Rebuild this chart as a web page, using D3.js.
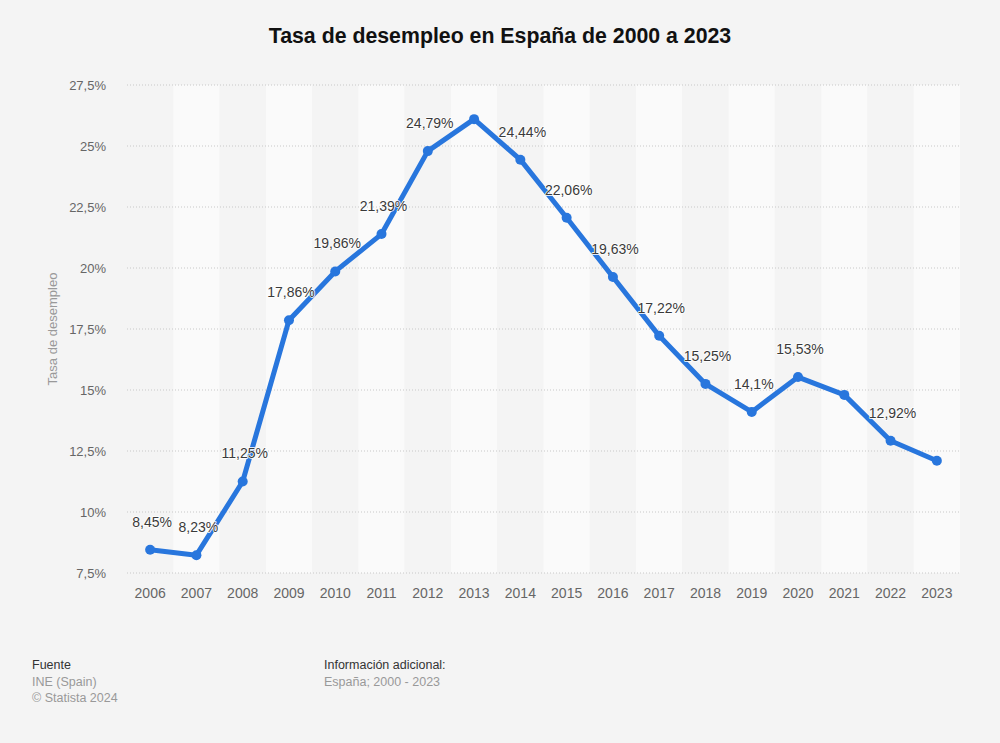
<!DOCTYPE html>
<html><head><meta charset="utf-8">
<script src="https://cdn.jsdelivr.net/npm/d3@7"></script>
<style>
body{margin:0;background:#f4f4f4;}
svg{display:block;font-family:"Liberation Sans",Arial,sans-serif;}
</style></head><body>
<script>
const years = ["2006","2007","2008","2009","2010","2011","2012","2013","2014","2015","2016","2017","2018","2019","2020","2021","2022","2023"];
const rates = [8.45,8.23,11.25,17.86,19.86,21.39,24.79,26.1,24.44,22.06,19.63,17.22,15.25,14.1,15.53,14.8,12.92,12.1];
const showLabel = [true,true,true,true,true,true,true,false,true,true,true,true,true,true,true,false,true,false];
const yTicks = [7.5,10,12.5,15,17.5,20,22.5,25,27.5];
const title = "Tasa de desempleo en España de 2000 a 2023";
const yTitle = "Tasa de desempleo";

const W=1000,H=743;
const svg=d3.select("body").append("svg").attr("width",W).attr("height",H);
svg.append("rect").attr("width",W).attr("height",H).attr("fill","#f4f4f4");

const x=d3.scaleBand().domain(years).range([127,960]).padding(0);
const y=d3.scaleLinear().domain([7.5,27.5]).range([573,85]);
const fmt=v=>String(v).replace(".",",")+"%";

// bands
svg.append("g").selectAll("rect").data(years).join("rect")
  .attr("x",d=>x(d)).attr("y",85).attr("width",x.bandwidth()).attr("height",573-85)
  .attr("fill",(d,i)=>i%2? "#fafafa":"#f4f4f4");

// grid
svg.append("g").selectAll("line").data(yTicks).join("line")
  .attr("x1",127).attr("x2",960).attr("y1",d=>y(d)).attr("y2",d=>y(d))
  .attr("stroke","#c8c8c8").attr("stroke-width",1).attr("stroke-dasharray","1,2");

// y axis
const ya=svg.append("g").attr("transform","translate(106,0)")
  .call(d3.axisLeft(y).tickValues(yTicks).tickSize(0).tickPadding(0).tickFormat(d=>fmt(d)));
ya.select(".domain").remove();
ya.selectAll("text").attr("fill","#666").style("font-size","13px").style("font-family","'Liberation Sans',Arial,sans-serif");

// x axis
const xa=svg.append("g").attr("transform","translate(0,588)")
  .call(d3.axisBottom(x).tickSize(0).tickPadding(0));
xa.select(".domain").remove();
xa.selectAll("text").attr("fill","#666").style("font-size","14px").attr("dy","0.71em").style("font-family","'Liberation Sans',Arial,sans-serif");

// y title
svg.append("text").attr("transform","translate(57,329) rotate(-90)").attr("text-anchor","middle")
  .attr("fill","#999").style("font-size","13px").text(yTitle);

// line
const line=d3.line().x((d,i)=>x(years[i])+x.bandwidth()/2).y(d=>y(d));
svg.append("path").datum(rates).attr("d",line).attr("fill","none")
  .attr("stroke","#2876dd").attr("stroke-width",5).attr("stroke-linejoin","round");
svg.append("g").selectAll("circle").data(rates).join("circle")
  .attr("cx",(d,i)=>x(years[i])+x.bandwidth()/2).attr("cy",d=>y(d)).attr("r",5)
  .attr("fill","#2876dd");

// labels
svg.append("g").selectAll("text").data(rates.map((v,i)=>({v,i})).filter(d=>showLabel[d.i])).join("text")
  .attr("x",d=>x(years[d.i])+x.bandwidth()/2+2).attr("y",d=>y(d.v)-28)
  .attr("dy","0.35em").attr("text-anchor","middle")
  .attr("fill","#3a3a3a").style("font-size","14px")
  .style("paint-order","stroke").attr("stroke","#ffffff").attr("stroke-width",1.5).attr("stroke-linejoin","round")
  .text(d=>fmt(d.v));

// title
svg.append("text").attr("x",500).attr("y",43).attr("text-anchor","middle")
  .attr("fill","#111").style("font-size","21.3px").style("font-weight","bold").text(title);

// footer
const f=svg.append("g").style("font-size","12.5px");
f.append("text").attr("x",32).attr("y",669).attr("fill","#333").text("Fuente");
f.append("text").attr("x",32).attr("y",686).attr("fill","#999").text("INE (Spain)");
f.append("text").attr("x",32).attr("y",702).attr("fill","#999").text("© Statista 2024");
f.append("text").attr("x",324).attr("y",669).attr("fill","#333").text("Información adicional:");
f.append("text").attr("x",324).attr("y",686).attr("fill","#999").text("España; 2000 - 2023");
</script></body></html>
